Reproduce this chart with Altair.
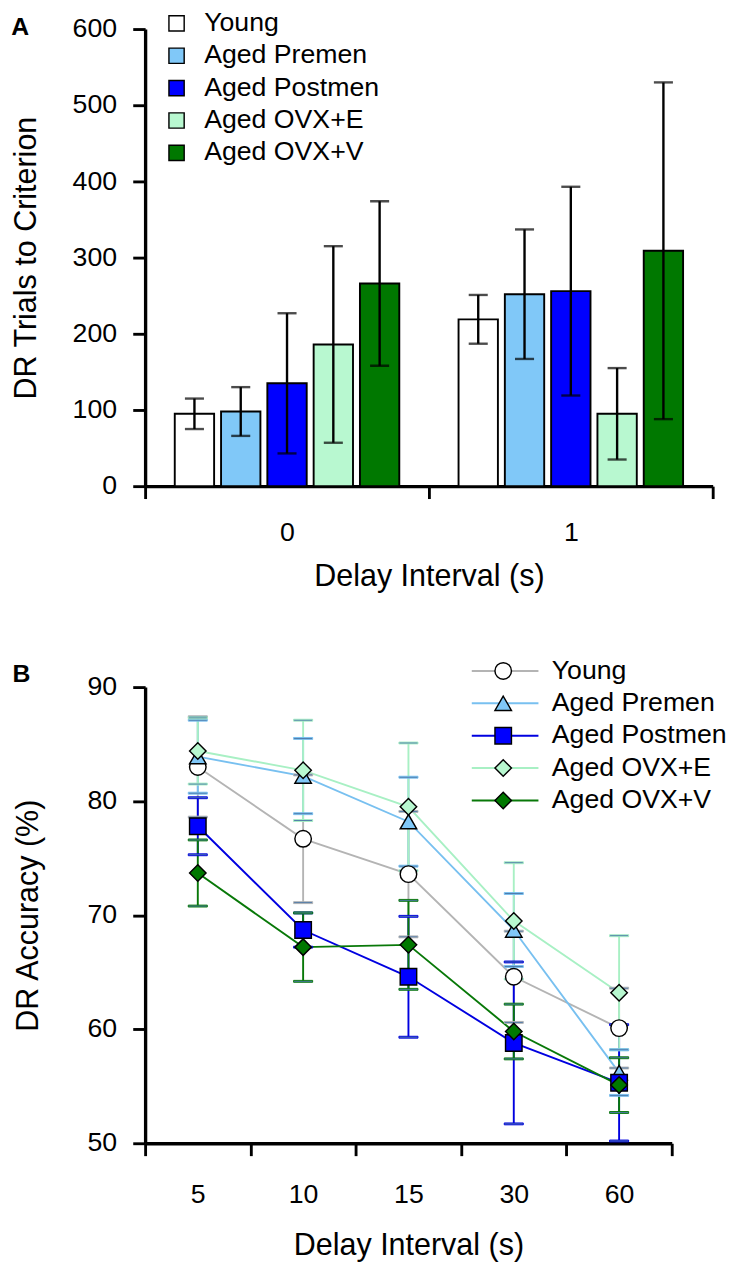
import altair as alt
import pandas as pd

FONT = "Liberation Sans"

# ---------------- data ----------------
groups = ["Young", "Aged Premen", "Aged Postmen", "Aged OVX+E", "Aged OVX+V"]

# Panel A: trials to criterion
a_delays = ["0", "1"]
a_mean_0 = [95, 98, 135, 186, 266]
a_err_0 = [20, 32, 92, 129, 108]
a_mean_1 = [219, 252, 256, 95, 309]
a_err_1 = [32, 85, 137, 60, 221]

# Panel B: accuracy (%)
b_delays = ["5", "10", "15", "30", "60"]
b_young = [83.0, 76.7, 73.6, 64.6, 60.1]
b_young_err = [4.4, 5.6, 5.5, 4.0, 3.5]
b_premen = [83.9, 82.2, 78.2, 68.7, 56.2]
b_premen_err = [3.2, 3.3, 3.9, 3.2, 2.0]
b_postmen = [77.8, 68.7, 64.6, 58.8, 55.3]
b_postmen_err = [2.5, 1.5, 5.3, 7.1, 5.1]
b_ovxe = [84.4, 82.7, 79.5, 69.5, 63.2]
b_ovxe_err = [2.9, 4.4, 5.6, 5.1, 5.0]
b_ovxv = [73.7, 67.2, 67.4, 59.8, 55.1]
b_ovxv_err = [2.9, 3.0, 3.9, 2.4, 2.4]

fill_colors = ["#ffffff", "#80c8f8", "#0000ff", "#b8f8d0", "#007800"]
line_colors = ["#b4b4b4", "#78c0f0", "#0000e0", "#a8f0c4", "#087808"]
shapes = ["circle", "triangle-up", "square", "diamond", "diamond"]

# ---------------- tables ----------------
rows_a = []
for d, means, errs in zip(a_delays, [a_mean_0, a_mean_1], [a_err_0, a_err_1]):
    for g, m, e in zip(groups, means, errs):
        rows_a.append({"delay": d, "group": g, "mean": m, "lo": m - e, "hi": m + e})
df_a = pd.DataFrame(rows_a)

rows_b = []
for g, means, errs in zip(
    groups,
    [b_young, b_premen, b_postmen, b_ovxe, b_ovxv],
    [b_young_err, b_premen_err, b_postmen_err, b_ovxe_err, b_ovxv_err],
):
    for d, m, e in zip(b_delays, means, errs):
        rows_b.append({"delay": d, "group": g, "series": g, "mean": m, "lo": m - e, "hi": m + e})
df_b = pd.DataFrame(rows_b)

LBL = 28
TTL = 32
LEG = 28


def x_axis(label_pad, title_pad):
    return alt.Axis(
        title="Delay Interval (s)",
        tickBand="extent",
        labelAngle=0,
        labelFontSize=LBL,
        titleFontSize=TTL,
        tickSize=13,
        tickWidth=3,
        domainWidth=3.5,
        labelPadding=label_pad,
        titlePadding=title_pad,
    )


# ---------------- panel A ----------------
xa = alt.X("delay:N", sort=a_delays, scale=alt.Scale(paddingInner=0, paddingOuter=0), axis=x_axis(22, 16))
xoff = alt.XOffset(
    "group:N", sort=groups, scale=alt.Scale(paddingInner=0.15, paddingOuter=0.64)
)
ya = alt.Y(
    "mean:Q",
    scale=alt.Scale(domain=[0, 600], nice=False),
    axis=alt.Axis(
        title="DR Trials to Criterion",
        values=[0, 100, 200, 300, 400, 500, 600],
        labelFontSize=LBL,
        titleFontSize=TTL,
        tickSize=13,
        tickWidth=3,
        domainWidth=3.5,
        labelPadding=17,
        titlePadding=31,
    ),
)

bars = (
    alt.Chart(df_a)
    .mark_bar(stroke="black", strokeWidth=2)
    .encode(
        x=xa,
        xOffset=xoff,
        y=ya,
        fill=alt.Fill(
            "group:N",
            sort=groups,
            scale=alt.Scale(domain=groups, range=fill_colors),
            legend=alt.Legend(
                title=None,
                orient="none",
                legendX=19,
                legendY=-20,
                symbolType="square",
                symbolSize=256,
                symbolStrokeColor="black",
                symbolStrokeWidth=1.5,
                labelFontSize=LEG,
                labelFont=FONT,
                labelColor="black",
                labelOffset=15,
                labelLimit=0,
                rowPadding=6,
                padding=0,
            ),
        ),
    )
)
err_a = alt.Chart(df_a).mark_rule(color="black", strokeWidth=2.5).encode(
    x=alt.X("delay:N", sort=a_delays), xOffset=alt.XOffset("group:N", sort=groups), y="lo:Q", y2="hi:Q"
)
cap_lo_a = alt.Chart(df_a).mark_tick(color="black", thickness=2.5, size=20).encode(
    x=alt.X("delay:N", sort=a_delays), xOffset=alt.XOffset("group:N", sort=groups), y="lo:Q"
)
cap_hi_a = alt.Chart(df_a).mark_tick(color="black", thickness=2.5, size=20).encode(
    x=alt.X("delay:N", sort=a_delays), xOffset=alt.XOffset("group:N", sort=groups), y="hi:Q"
)

panel_a = alt.layer(bars, err_a, cap_lo_a, cap_hi_a).properties(
    width=596,
    height=480,
    title=alt.TitleParams(
        "A", anchor="start", frame="bounds", fontSize=26, fontWeight="bold", font=FONT, offset=-31
    ),
)

# ---------------- panel B ----------------
xb = alt.X("delay:N", sort=b_delays, scale=alt.Scale(paddingInner=0, paddingOuter=0), axis=x_axis(27, 24))
yb = alt.Y(
    "mean:Q",
    scale=alt.Scale(domain=[50, 90], nice=False, zero=False),
    axis=alt.Axis(
        title="DR Accuracy (%)",
        values=[50, 60, 70, 80, 90],
        labelFontSize=LBL,
        titleFontSize=TTL,
        tickSize=13,
        tickWidth=3,
        domainWidth=3.5,
        labelPadding=17,
        titlePadding=45,
    ),
)
# stroke scale keeps a data-driven domain so its legend stays separate from the marker legend
line_stroke = alt.Stroke(
    "series:N",
    sort=groups,
    scale=alt.Scale(range=line_colors),
    legend=alt.Legend(
        title=None,
        orient="none",
        legendX=364,
        legendY=-31,
        symbolType="M-5,0H5",
        symbolSize=196,
        symbolStrokeWidth=2,
        symbolOpacity=1,
        labelFontSize=LEG,
        labelFont=FONT,
        labelColor="black",
        labelOffset=35,
        labelLimit=0,
        rowPadding=6,
        padding=0,
    ),
)
shape_legend = alt.Legend(
    title=None,
    orient="none",
    legendX=362,
    legendY=-31,
    symbolSize=300,
    symbolStrokeWidth=1.5,
    symbolOpacity=1,
    labelFontSize=LEG,
    labelFont=FONT,
    labelColor="transparent",
    labelExpr="' '",
    labelOffset=7,
    labelLimit=0,
    rowPadding=6,
    padding=0,
)

err_b = alt.Chart(df_b).mark_rule(strokeWidth=2).encode(
    x=alt.X("delay:N", sort=b_delays), y="lo:Q", y2="hi:Q", stroke=line_stroke
)
cap_lo_b = alt.Chart(df_b).mark_tick(thickness=2, size=20, opacity=1).encode(
    x=alt.X("delay:N", sort=b_delays), y="lo:Q", stroke=line_stroke
)
cap_hi_b = alt.Chart(df_b).mark_tick(thickness=2, size=20, opacity=1).encode(
    x=alt.X("delay:N", sort=b_delays), y="hi:Q", stroke=line_stroke
)
lines_b = alt.Chart(df_b).mark_line(strokeWidth=2).encode(
    x=xb, y=yb, stroke=line_stroke, detail="series:N"
)
points_b = (
    alt.Chart(df_b)
    .mark_point(filled=True, stroke="black", strokeWidth=1.5, size=300, opacity=1)
    .encode(
        x=alt.X("delay:N", sort=b_delays),
        y="mean:Q",
        shape=alt.Shape("group:N", sort=groups, scale=alt.Scale(domain=groups, range=shapes), legend=shape_legend),
        fill=alt.Fill("group:N", sort=groups, scale=alt.Scale(domain=groups, range=fill_colors), legend=shape_legend),
    )
)

panel_b = alt.layer(lines_b, err_b, cap_lo_b, cap_hi_b, points_b).properties(
    width=553,
    height=479,
    title=alt.TitleParams(
        "B", anchor="start", frame="bounds", fontSize=26, fontWeight="bold", font=FONT, offset=-31
    ),
)

chart = (
    alt.vconcat(panel_a, panel_b, spacing=70)
    .resolve_scale(fill="independent", stroke="independent", shape="independent")
    .resolve_legend(fill="independent", stroke="independent", shape="independent")
    .properties(padding={"left": 3, "top": -30, "right": 0, "bottom": 0})
    .configure_view(stroke=None)
    .configure_axis(
        labelFont=FONT,
        titleFont=FONT,
        grid=False,
        domainColor="black",
        tickColor="black",
        labelColor="black",
        titleColor="black",
        titleFontWeight="normal",
    )
)

chart.save("out.html", embed_options={"renderer": "svg", "actions": False})
